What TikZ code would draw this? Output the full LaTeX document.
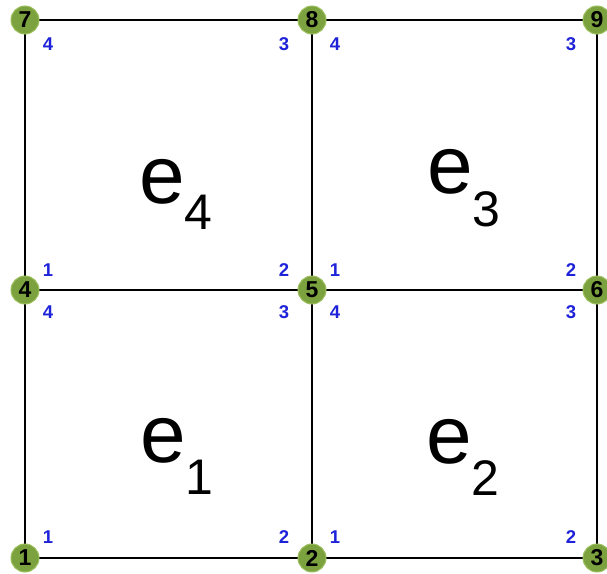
\documentclass[tikz,border=0pt]{standalone}
\usepackage{fontspec}
\setmainfont{Liberation Sans}
\definecolor{nodegreen}{HTML}{7BA23F}
\definecolor{nodering}{HTML}{9DC05E}
\definecolor{locblue}{HTML}{1E22D8}
\tikzset{
  gnode/.style={circle, fill=nodegreen, draw=nodering, line width=1pt, minimum size=28pt, inner sep=0pt, font=\fontsize{23}{23}\selectfont\bfseries},
  loc/.style={text=locblue, inner sep=0pt, font=\fontsize{18.5}{18.5}\selectfont\bfseries},
  edge/.style={line width=2.2pt, black},
  elab/.style={anchor=base west, inner sep=0pt}
}
\newcommand{\elem}[2]{{\fontsize{82}{82}\selectfont e}\raisebox{#2}{\fontsize{50}{50}\selectfont #1}}
\begin{document}
\begin{tikzpicture}[x=1pt,y=-1pt]
\useasboundingbox (0,0) rectangle (607,573);
% coordinates
\coordinate (c1) at (25,558);
\coordinate (c2) at (312,558);
\coordinate (c3) at (597,558);
\coordinate (c4) at (25,290);
\coordinate (c5) at (312,290);
\coordinate (c6) at (597,290);
\coordinate (c7) at (25,20);
\coordinate (c8) at (312,20);
\coordinate (c9) at (597,20);
% edges
\draw[edge] (c7) -- (c8) -- (c9);
\draw[edge] (c4) -- (c5) -- (c6);
\draw[edge] (c1) -- (c2) -- (c3);
\draw[edge] (c7) -- (c4) -- (c1);
\draw[edge] (c8) -- (c5) -- (c2);
\draw[edge] (c9) -- (c6) -- (c3);
% element labels
\node[elab] (e4) at (139,203) {\elem{4}{-26pt}};
\node[elab] (e3) at (427,193) {\elem{3}{-33pt}};
\node[elab] (e1) at (140,462) {\elem{1}{-32pt}};
\node[elab] (e2) at (426,463) {\elem{2}{-32pt}};
% local numbering
\node[loc] (l41) at (48,270) {1};
\node[loc] (l42) at (284,270) {2};
\node[loc] (l43) at (284,44) {3};
\node[loc] (l44) at (48,44) {4};
\node[loc] (l31) at (335,270) {1};
\node[loc] (l32) at (571,270) {2};
\node[loc] (l33) at (571,44) {3};
\node[loc] (l34) at (335,44) {4};
\node[loc] (l11) at (48,537) {1};
\node[loc] (l12) at (284,537) {2};
\node[loc] (l13) at (284,312) {3};
\node[loc] (l14) at (48,312) {4};
\node[loc] (l21) at (335,537) {1};
\node[loc] (l22) at (571,537) {2};
\node[loc] (l23) at (571,312) {3};
\node[loc] (l24) at (335,312) {4};
% global nodes
\node[gnode] (n1) at (c1) {1};
\node[gnode] (n2) at (c2) {2};
\node[gnode] (n3) at (c3) {3};
\node[gnode] (n4) at (c4) {4};
\node[gnode] (n5) at (c5) {5};
\node[gnode] (n6) at (c6) {6};
\node[gnode] (n7) at (c7) {7};
\node[gnode] (n8) at (c8) {8};
\node[gnode] (n9) at (c9) {9};
\end{tikzpicture}
\end{document}
